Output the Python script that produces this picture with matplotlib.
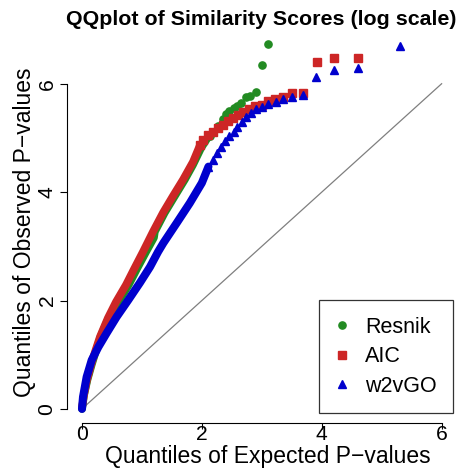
import matplotlib.pyplot as plt
from matplotlib.lines import Line2D

plt.rcParams['font.family'] = ['Liberation Sans', 'DejaVu Sans']

# dense part of each curve and the separate points above it
resnik_band_x = [0, 0.035, 0.09, 0.16, 0.227, 0.31, 0.445, 0.61, 0.78, 0.915, 1.07, 1.20,
                 1.215, 1.38, 1.55, 1.715, 1.85, 1.99, 2.12]
resnik_band_y = [0, 0.26, 0.535, 0.81, 1.05, 1.33, 1.68, 1.975, 2.29, 2.58, 2.90, 3.16,
                 3.27, 3.62, 3.93, 4.23, 4.50, 4.82, 5.04]
resnik_pts_x = [2.14, 2.27, 2.35, 2.40, 2.46, 2.53, 2.58, 2.65, 2.73, 2.80, 2.90, 3.00, 3.10]
resnik_pts_y = [5.04, 5.22, 5.35, 5.45, 5.50, 5.56, 5.58, 5.65, 5.76, 5.78, 5.85, 6.34, 6.74]

aic_band_x = [0, 0.033, 0.083, 0.15, 0.217, 0.30, 0.434, 0.568, 0.735, 0.868, 1.018, 1.185,
              1.352, 1.519, 1.686, 1.853, 1.97]
aic_band_y = [0.02, 0.26, 0.535, 0.81, 1.05, 1.33, 1.68, 1.975, 2.29, 2.58, 2.90, 3.27,
              3.62, 3.93, 4.23, 4.56, 4.87]
aic_pts_x = [1.97, 2.02, 2.10, 2.19, 2.27, 2.35, 2.44, 2.52, 2.60, 2.69, 2.79, 2.89, 3.00,
             3.11, 3.22, 3.36, 3.51, 3.69, 3.92, 4.20, 4.61]
aic_pts_y = [4.87, 4.97, 5.06, 5.11, 5.19, 5.24, 5.32, 5.37, 5.43, 5.48, 5.54, 5.58, 5.61,
             5.69, 5.72, 5.76, 5.82, 5.83, 6.40, 6.47, 6.47]

w2v_band_x = [0, 0.017, 0.078, 0.162, 0.272, 0.412, 0.579, 0.773, 0.968, 1.135, 1.27, 1.357,
              1.58, 1.80, 2.00, 2.11]
w2v_band_y = [0, 0.22, 0.59, 0.90, 1.14, 1.40, 1.70, 2.01, 2.33, 2.62, 2.90, 3.06,
              3.43, 3.80, 4.17, 4.47]
w2v_pts_x = [2.11, 2.19, 2.25, 2.32, 2.39, 2.46, 2.53, 2.59, 2.67, 2.73, 2.82, 2.90, 3.00,
             3.11, 3.23, 3.36, 3.51, 3.69, 3.91, 4.20, 4.60, 5.30]
w2v_pts_y = [4.47, 4.60, 4.73, 4.84, 4.95, 5.04, 5.11, 5.21, 5.30, 5.38, 5.46, 5.53, 5.57,
             5.63, 5.67, 5.71, 5.75, 5.79, 6.12, 6.26, 6.29, 6.70]

labels = ['Resnik', 'AIC', 'w2vGO']
green = '#228B22'
red = '#CD2626'
blue = '#0000CD'

W = 470
fig = plt.figure(figsize=(4.7, 4.7), dpi=100)
ax = fig.add_axes([67/W, 47/W, 389/W, 394/W])

# reference diagonal
ax.plot([0, 6], [0, 6], color='#7f7f7f', lw=0.9, zorder=1)

ax.plot(resnik_band_x, resnik_band_y, color=green, lw=5.6, solid_capstyle='round', zorder=2)
ax.plot(resnik_pts_x, resnik_pts_y, 'o', color=green, ms=5.2, zorder=2)
ax.plot(aic_band_x, aic_band_y, color=red, lw=5.6, solid_capstyle='butt', zorder=3)
ax.plot(aic_pts_x, aic_pts_y, 's', color=red, ms=5.2, zorder=3)
ax.plot(w2v_band_x, w2v_band_y, color=blue, lw=5.8, solid_capstyle='round', zorder=4)
ax.plot(w2v_pts_x, w2v_pts_y, '^', color=blue, ms=6, zorder=4)

ax.set_xlim(-0.25, 6.24)
ax.set_ylim(-0.26, 7.01)
ax.set_xticks([0, 2, 4, 6])
ax.set_yticks([0, 2, 4, 6])
for s in ['top', 'right']:
    ax.spines[s].set_visible(False)
ax.spines['left'].set_bounds(0, 6)
ax.spines['bottom'].set_bounds(0, 6)
ax.tick_params(width=0.8, labelsize=15.2)
ax.tick_params(axis='x', length=4, pad=-2.5)
ax.tick_params(axis='y', length=5, pad=2.5, labelrotation=90)
for t in ax.get_yticklabels():
    t.set_va('center')

ax.set_title('QQplot of Similarity Scores (log scale)', fontsize=15.4, fontweight='bold', pad=1)
fig.text(268/W, 7/W, 'Quantiles of Expected P\u2212values', fontsize=16.5,
         ha='center', va='baseline')
fig.text(24.5/W, 238/W, 'Quantiles of Observed P\u2212values', fontsize=16.5,
         ha='center', va='center', rotation=90)

handles = [Line2D([], [], ls='none', marker='o', color=green, ms=5.2),
           Line2D([], [], ls='none', marker='s', color=red, ms=5.2),
           Line2D([], [], ls='none', marker='^', color=blue, ms=6)]
leg = ax.legend(handles, labels, loc='lower right', bbox_to_anchor=(453/W, 57/W),
                bbox_transform=fig.transFigure, borderaxespad=0, fancybox=False,
                edgecolor='black', fontsize=15.5, borderpad=0.75, labelspacing=0.4,
                handlelength=0.6, handletextpad=0.8)
leg.get_frame().set_linewidth(0.9)

plt.savefig('out.png', dpi=100)
